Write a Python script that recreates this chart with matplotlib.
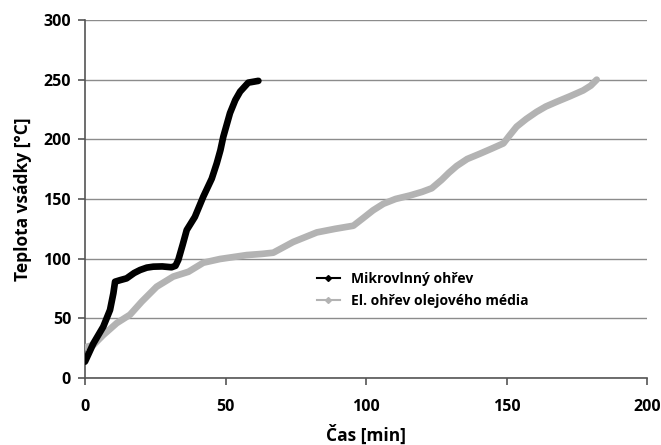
import matplotlib.pyplot as plt
from matplotlib.lines import Line2D

plt.rcParams['font.family'] = ['Open Sans', 'DejaVu Sans']

# Mikrovlnný ohřev
mw_time = [0, 3, 6.5, 8.9, 10.1, 10.7, 12.5, 14.8, 17.5, 19.6, 22, 24.3, 27.5, 30.8, 32.2, 33.2,
           34.8, 36.2, 39.1, 42.1, 45.1, 46.9, 48.2, 49.2, 51.6, 53.5, 55.2, 58.1, 61.7]
mw_temp = [13.7, 29, 43, 57, 71, 80.7, 82, 83.5, 88, 90.5, 92.5, 93.3, 93.5, 92.8, 94, 98.9,
           112, 124, 135, 152, 167, 180, 191, 202, 222, 233, 240, 247.5, 249]

# El. ohřev olejového média
oil_time = [0, 3, 6.5, 11.3, 16, 20.2, 25.5, 31.4, 36.8, 42.1, 48, 57.5, 63, 67,
            74.1, 82.5, 89, 95.5, 99, 102.5, 106.2, 110.5, 115.7, 120, 123.4, 126.9,
            129.5, 132.3, 136, 140.6, 145, 148.9, 151, 153.6, 157, 160.7, 164, 167.9,
            172.5, 177.3, 180, 182.1]
oil_temp = [25.7, 27.7, 36, 46, 53, 64, 76.5, 85, 89, 96.6, 99.7, 103, 104, 105,
            114, 122, 125, 127.6, 134, 140.5, 146, 150, 153, 156, 159, 166,
            172, 177.7, 183.5, 188, 192.5, 196.6, 203, 210.6, 217, 223, 227.5, 231.5,
            236, 241, 245, 250]

labels = ['Mikrovlnný ohřev', 'El. ohřev olejového média']
colors = ['black', '#b3b3b3']

fig = plt.figure(figsize=(6.61, 4.45), dpi=100)
ax = fig.add_axes([85/661, 1 - 378/445, 562/661, 358/445])

ax.plot(oil_time, oil_temp, color=colors[1], lw=4.8, solid_capstyle='round',
        solid_joinstyle='round', zorder=3)
ax.plot(mw_time, mw_temp, color=colors[0], lw=4.8, solid_capstyle='round',
        solid_joinstyle='round', zorder=4)

ax.set_xlim(0, 200)
ax.set_ylim(0, 300)
ax.set_xticks([0, 50, 100, 150, 200])
ax.set_yticks(range(0, 301, 50))
ax.yaxis.grid(True, color='#8c8c8c', lw=1)
ax.set_axisbelow(True)
for s in ['top', 'right']:
    ax.spines[s].set_visible(False)
for s in ['left', 'bottom']:
    ax.spines[s].set_color('#555555')
    ax.spines[s].set_linewidth(1.2)
ax.tick_params(direction='out', length=5, width=1.2, color='#555555',
               labelsize=11.5, pad=5)
ax.tick_params(axis='x', pad=10)
for t in ax.get_xticklabels() + ax.get_yticklabels():
    t.set_fontweight('bold')

ax.set_xlabel('Čas [min]', fontsize=12.5, fontweight='bold', labelpad=7)
ax.set_ylabel('Teplota vsádky [°C]', fontsize=12.5, fontweight='bold', labelpad=8)

handles = [Line2D([], [], color=c, lw=1.5, marker='D', markersize=3) for c in colors]
ax.legend(handles, labels, loc='upper left', bbox_to_anchor=(0.39, 0.33),
          frameon=False, prop={'weight': 'bold', 'size': 10},
          handlelength=1.7, labelspacing=0.55)

fig.savefig('out.png', dpi=100)
